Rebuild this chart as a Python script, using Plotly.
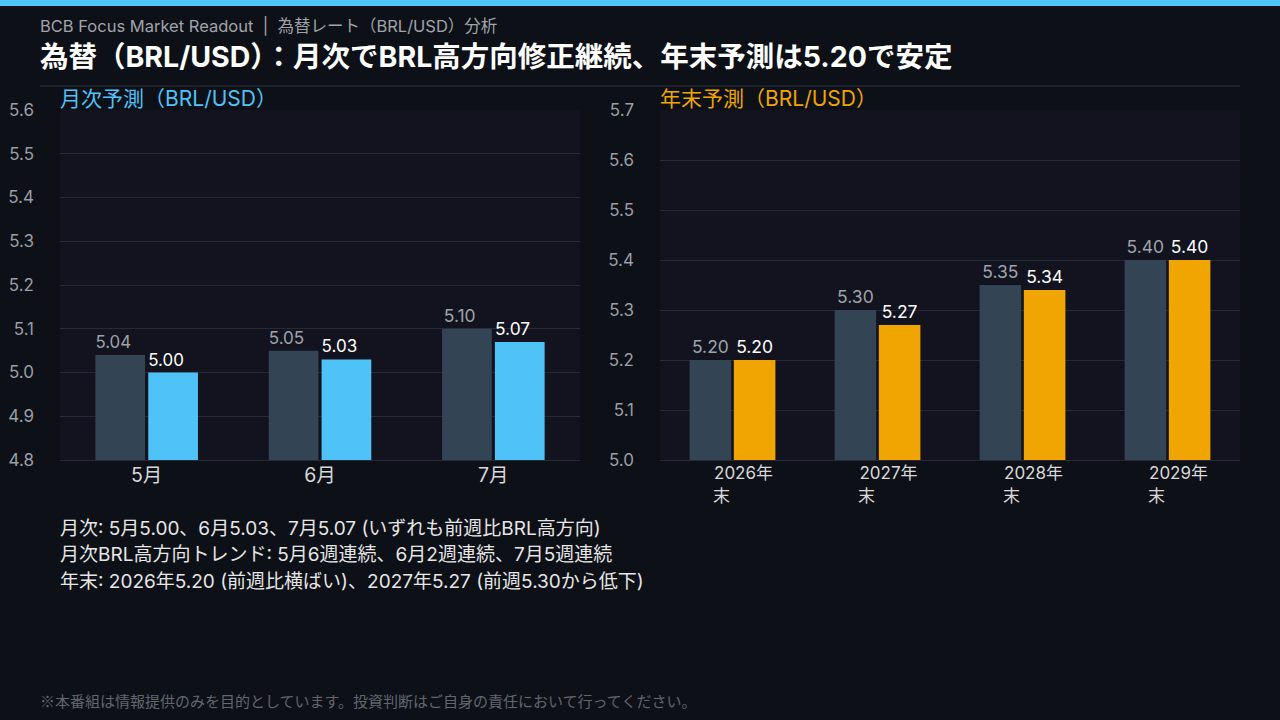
import plotly.graph_objects as go

# ---- data ----
monthly_cats = ["5月", "6月", "7月"]
monthly_prev = [5.04, 5.05, 5.10]
monthly_curr = [5.00, 5.03, 5.07]

annual_cats = ["2026年末", "2027年末", "2028年末", "2029年末"]
annual_ticktext = ["2026年<br>末", "2027年<br>末", "2028年<br>末", "2029年<br>末"]
annual_prev = [5.20, 5.30, 5.35, 5.40]
annual_curr = [5.20, 5.27, 5.34, 5.40]

monthly_ticks = [4.8, 4.9, 5.0, 5.1, 5.2, 5.3, 5.4, 5.5, 5.6]
annual_ticks = [5.0, 5.1, 5.2, 5.3, 5.4, 5.5, 5.6, 5.7]

notes = [
    "月次: 5月5.00、6月5.03、7月5.07 (いずれも前週比BRL高方向)",
    "月次BRL高方向トレンド: 5月6週連続、6月2週連続、7月5週連続",
    "年末: 2026年5.20 (前週比横ばい)、2027年5.27 (前週5.30から低下)",
]

# ---- style ----
BG = "#0d1017"
PLOT_BG = "#12131f"
GRID = "#262a38"
DARK = "#334455"
BLUE = "#4FC3F7"
ORANGE = "#F0A500"
FONT = "Inter, Noto Sans CJK JP, sans-serif"
CJK = "Noto Sans CJK JP, sans-serif"
W, H = 1280, 720
FS = "\u2007"  # figure space, used only to left-align labels

def py(px):
    return 1 - px / H

def pxx(px):
    return px / W

fig = go.Figure()

pad = FS + "\u2009"
LBL = 17.5
fig.add_trace(go.Bar(x=monthly_cats, y=monthly_prev, marker_color=DARK, marker_line_width=0,
                     text=[f"{v:.2f}" + pad for v in monthly_prev], textposition="outside",
                     textfont=dict(color="#9ea3ab", size=LBL, family=FONT),
                     cliponaxis=False, xaxis="x", yaxis="y", showlegend=False))
fig.add_trace(go.Bar(x=monthly_cats, y=monthly_curr, marker_color=BLUE, marker_line_width=0,
                     text=[f"{v:.2f}" + pad for v in monthly_curr], textposition="outside",
                     textfont=dict(color="#ffffff", size=LBL, family=FONT),
                     cliponaxis=False, xaxis="x", yaxis="y", showlegend=False))
fig.add_trace(go.Bar(x=annual_cats, y=annual_prev, marker_color=DARK, marker_line_width=0,
                     text=[f"{v:.2f}" for v in annual_prev], textposition="outside",
                     textfont=dict(color="#9ea3ab", size=LBL, family=FONT),
                     cliponaxis=False, xaxis="x2", yaxis="y2", showlegend=False))
fig.add_trace(go.Bar(x=annual_cats, y=annual_curr, marker_color=ORANGE, marker_line_width=0,
                     text=[f"{v:.2f}" for v in annual_curr], textposition="outside",
                     textfont=dict(color="#ffffff", size=LBL, family=FONT),
                     cliponaxis=False, xaxis="x2", yaxis="y2", showlegend=False))

ydom = [py(460), py(110)]
xaxis_common = dict(showgrid=False, showline=True, linecolor=GRID, linewidth=1, ticks="",
                    fixedrange=True, automargin=False)
yaxis_common = dict(showgrid=True, gridcolor=GRID, gridwidth=1, zeroline=False, ticks="",
                    tickformat=".1f", tickfont=dict(color="#9a9ea6", size=17, family=FONT),
                    ticklabelstandoff=25, fixedrange=True, automargin=False)

def align_tick(t):
    first, second = t.split("<br>")
    return FS * 2 + first + "<br>" + FS * 2 + second + FS * 4

annual_ticktext_aligned = [align_tick(t) for t in annual_ticktext]

fig.update_layout(
    width=W, height=H,
    paper_bgcolor=BG, plot_bgcolor=PLOT_BG,
    margin=dict(l=0, r=0, t=0, b=0, pad=0, autoexpand=False),
    barmode="group", bargap=0.39, bargroupgap=0.06,
    font=dict(family=FONT, color="#ffffff"),
    showlegend=False,
    xaxis=dict(domain=[pxx(60), pxx(580)], anchor="y", ticklabelstandoff=-2,
               tickfont=dict(size=19.5, color="#d8d8d8", family=FONT), **xaxis_common),
    yaxis=dict(domain=ydom, anchor="x", range=[4.8, 5.6], tickvals=monthly_ticks, **yaxis_common),
    xaxis2=dict(domain=[pxx(660), pxx(1240)], anchor="y2", tickvals=annual_cats,
                ticktext=annual_ticktext_aligned, ticklabelstandoff=-2,
                tickfont=dict(size=17, color="#d8d8d8", family=FONT), **xaxis_common),
    yaxis2=dict(domain=ydom, anchor="x2", range=[5.0, 5.7], tickvals=annual_ticks, **yaxis_common),
)

shapes = [
    dict(type="rect", xref="paper", yref="paper", x0=0, x1=1, y0=py(6), y1=1,
         fillcolor=BLUE, line_width=0, layer="above"),
    dict(type="line", xref="paper", yref="paper", x0=pxx(40), x1=pxx(1240), y0=py(86), y1=py(86),
         line=dict(color="#2c303c", width=1)),
]
fig.update_layout(shapes=shapes)

ann = [
    dict(text="BCB Focus Market Readout  |  為替レート（BRL/USD）分析", x=pxx(38), y=py(26),
         font=dict(size=16.5, color="#a0a4aa", family=FONT)),
    dict(text="<b>為替（BRL/USD）：月次でBRL高方向修正継続、年末予測は5.20で安定</b>", x=pxx(38), y=py(57),
         font=dict(size=28.5, color="#ffffff", family=FONT)),
    dict(text="月次予測（BRL/USD）", x=pxx(58), y=py(99),
         font=dict(size=21, color=BLUE, family=FONT)),
    dict(text="年末予測（BRL/USD）", x=pxx(658), y=py(99),
         font=dict(size=21, color=ORANGE, family=FONT)),
    dict(text="※本番組は情報提供のみを目的としています。投資判断はご自身の責任において行ってください。",
         x=pxx(38), y=py(700), font=dict(size=15, color="#62666e", family=CJK)),
]
for i, line in enumerate(notes):
    ann.append(dict(text=line, x=pxx(58), y=py(528 + 26.5 * i),
                    font=dict(size=19, color="#e6e6e6", family=FONT)))
for a in ann:
    a.update(xref="paper", yref="paper", xanchor="left", yanchor="middle", showarrow=False)
fig.update_layout(annotations=ann)

post = ("document.documentElement.style.margin='0';document.body.style.margin='0';"
        "document.body.style.padding='0';document.documentElement.style.overflow='hidden';"
        "document.body.style.background='" + BG + "';")
fig.write_html("out.html", post_script=post)
